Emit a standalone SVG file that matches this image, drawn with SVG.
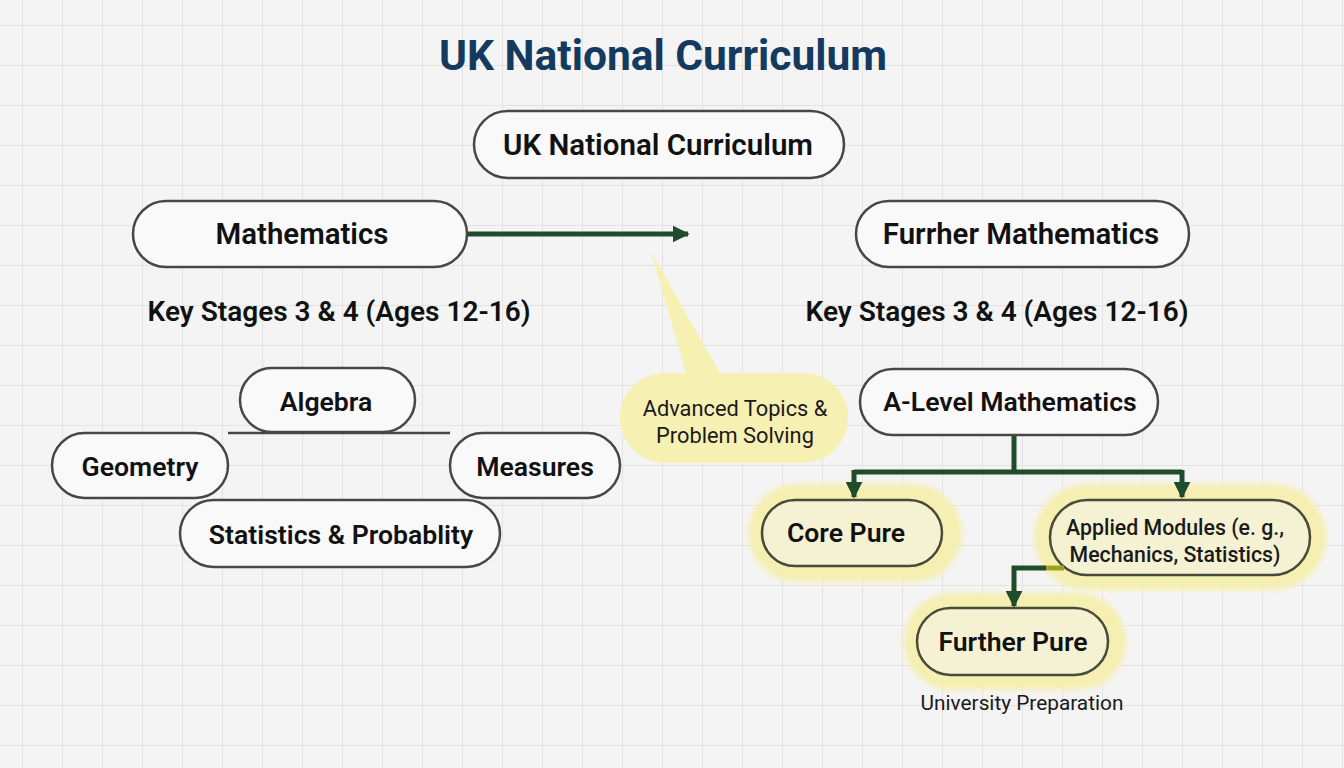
<svg xmlns="http://www.w3.org/2000/svg" width="1344" height="768" viewBox="0 0 1344 768">
<defs>
<pattern id="grid" x="22" y="25" width="40" height="40" patternUnits="userSpaceOnUse">
<path d="M0 0H40M0 0V40" fill="none" stroke="#e3e3e3" stroke-width="2"/>
</pattern>
<marker id="ah" viewBox="0 0 10 10" refX="9" refY="5" markerWidth="3.4" markerHeight="3.4" orient="auto" markerUnits="strokeWidth">
<path d="M0 0L10 5L0 10z" fill="#1f4d2c"/>
</marker>
<filter id="glow" x="-30%" y="-50%" width="160%" height="200%">
<feGaussianBlur stdDeviation="2.5"/>
</filter>
<style>
.node{fill:#f9f9f9;stroke:#474747;stroke-width:2.5}
.hnode{fill:#f5f2d4;stroke:#4a4a3a;stroke-width:2.5}
.halo{fill:#f6efad;opacity:0.92}
.lbl{font-family:Roboto,"Liberation Sans",sans-serif;font-weight:600;fill:#111;text-anchor:middle}
.reg{font-family:Roboto,"Liberation Sans",sans-serif;font-weight:400;fill:#1a1a1a;text-anchor:middle}
.conn{fill:none;stroke:#1f4d2c;stroke-width:5}
</style>
</defs>
<rect width="1344" height="768" fill="#f4f4f4"/>
<rect width="1344" height="768" fill="url(#grid)"/>

<text x="663" y="70" style="font-family:Roboto,'Liberation Sans',sans-serif;font-weight:700;font-size:42.5px;fill:#143a5f;text-anchor:middle">UK National Curriculum</text>

<g id="n-top">
<rect class="node" x="474" y="111" width="370" height="67" rx="33.5"/>
<text class="lbl" x="658" y="155" font-size="29.5">UK National Curriculum</text>
</g>

<g id="n-math">
<rect class="node" x="133" y="201" width="334" height="66" rx="33"/>
<text class="lbl" x="302" y="244" font-size="29.4">Mathematics</text>
</g>

<g id="n-further-math">
<rect class="node" x="856" y="201" width="333" height="66" rx="33"/>
<text class="lbl" x="1021" y="244" font-size="29.4">Furrher Mathematics</text>
</g>

<g id="ks-left">
<text class="lbl" x="339" y="321" font-size="28">Key Stages 3 &amp; 4 (Ages 12-16)</text>
</g>
<g id="ks-right">
<text class="lbl" x="997" y="321" font-size="28">Key Stages 3 &amp; 4 (Ages 12-16)</text>
</g>

<g id="n-algebra">
<rect class="node" x="240" y="368" width="175" height="64" rx="32"/>
<text class="lbl" x="326" y="411" font-size="26.6">Algebra</text>
</g>
<g id="n-geometry">
<rect class="node" x="52" y="433" width="176" height="65" rx="32.5"/>
<text class="lbl" x="140" y="476" font-size="26.6">Geometry</text>
</g>
<g id="n-measures">
<rect class="node" x="450" y="433" width="170" height="65" rx="32.5"/>
<text class="lbl" x="535" y="476" font-size="26.6">Measures</text>
</g>
<g id="n-stats">
<rect class="node" x="180" y="500" width="320" height="67" rx="33.5"/>
<text class="lbl" x="341" y="544" font-size="26.6">Statistics &amp; Probablity</text>
</g>

<g id="n-callout">
<path d="M651 252L724 380L688 380Z" fill="#f6f0b2"/>
<rect x="620" y="373" width="228" height="90" rx="45" fill="#f6f0b2"/>
<text class="reg" x="735" y="416" font-size="21.8">Advanced Topics &amp;</text>
<text class="reg" x="735" y="443" font-size="21.8">Problem Solving</text>
</g>

<g id="n-alevel">
<rect class="node" x="860" y="369" width="298" height="66" rx="33"/>
<text class="lbl" x="1010" y="411" font-size="26.6">A-Level Mathematics</text>
</g>

<g id="n-core">
<rect class="halo" x="748" y="484" width="214" height="98" rx="49" filter="url(#glow)"/>
<rect class="hnode" x="762" y="500" width="180" height="66" rx="33"/>
<text class="lbl" x="846" y="542" font-size="26.6">Core Pure</text>
</g>

<g id="n-applied">
<rect class="halo" x="1034" y="484" width="292" height="106" rx="53" filter="url(#glow)"/>
<rect class="hnode" x="1050" y="500" width="260" height="75" rx="37.5"/>
<text class="reg" x="1175" y="535" font-size="21.3" style="font-weight:500">Applied Modules (e. g.,</text>
<text class="reg" x="1175" y="562" font-size="21.3" style="font-weight:500">Mechanics, Statistics)</text>
</g>

<g id="n-further-pure">
<rect class="halo" x="904" y="593" width="222" height="97" rx="48" filter="url(#glow)"/>
<rect class="hnode" x="917" y="608" width="191" height="67" rx="33.5"/>
<text class="lbl" x="1013" y="651" font-size="26.6">Further Pure</text>
</g>

<g id="lbl-university">
<text class="reg" x="1022" y="710" font-size="20.8">University Preparation</text>
</g>

<g id="connectors">
<line class="conn" x1="468" y1="234" x2="688" y2="234" marker-end="url(#ah)"/>
<path class="conn" d="M1014 436V472M854 472H1182"/>
<path class="conn" d="M854 470V497" marker-end="url(#ah)"/>
<path class="conn" d="M1182 470V497" marker-end="url(#ah)"/>
<path class="conn" d="M1046 568H1014V606" marker-end="url(#ah)"/>
<path d="M1046 568H1064" stroke="#9ea21e" stroke-width="5" fill="none"/>
<path d="M228 433H450" stroke="#474747" stroke-width="2.5" fill="none"/>
</g>
</svg>
